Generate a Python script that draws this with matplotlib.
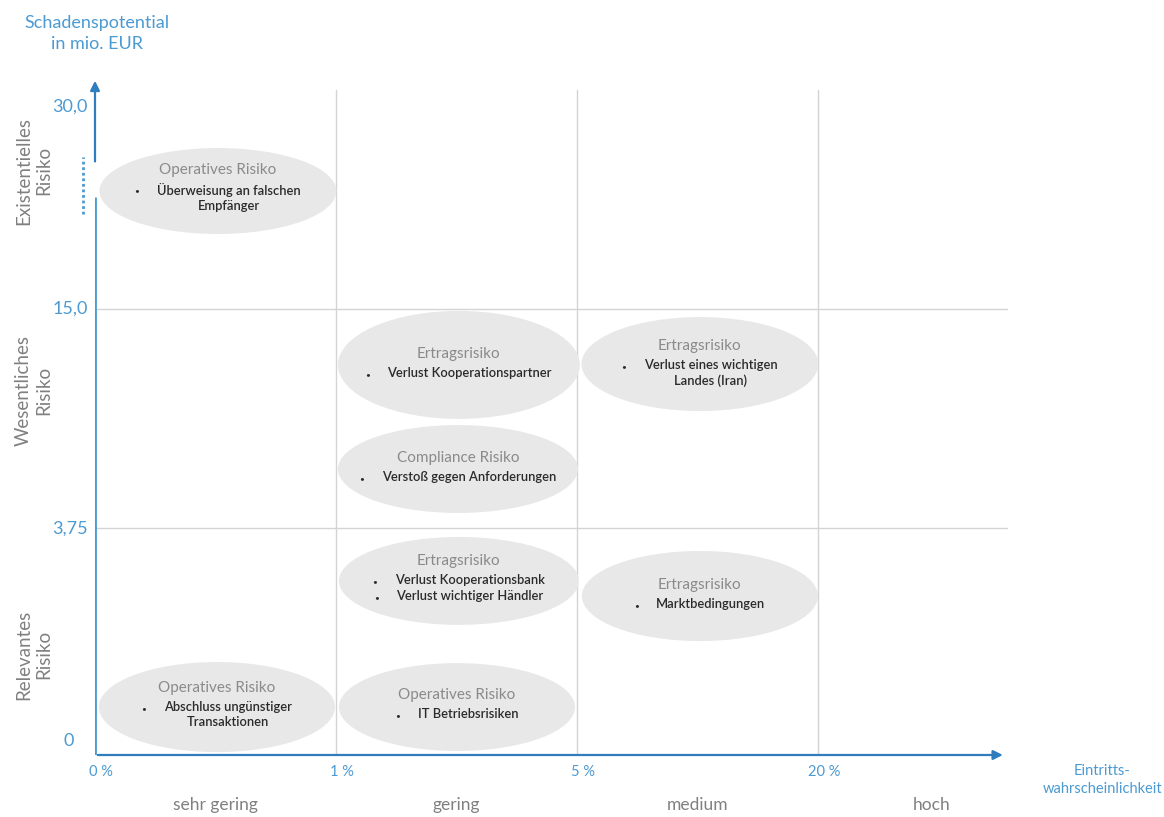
import matplotlib.pyplot as plt
from matplotlib.patches import Ellipse
from matplotlib.transforms import offset_copy

plt.rcParams['font.family'] = ['Lato', 'DejaVu Sans']

# axis categories
prob_ticks = ['0 %', '1 %', '5 %', '20 %']
prob_classes = ['sehr gering', 'gering', 'medium', 'hoch']
damage_ticks = ['0', '3,75', '15,0', '30,0']
damage_levels = [0, 1.05, 2.065, 3.0]
damage_classes = ['Relevantes\nRisiko', 'Wesentliches\nRisiko', 'Existentielles\nRisiko']

# risks: title, bullet items, ellipse centre / size (column and row units), title height
risk_titles = ['Operatives Risiko', 'Ertragsrisiko', 'Ertragsrisiko', 'Compliance Risiko',
               'Ertragsrisiko', 'Ertragsrisiko', 'Operatives Risiko', 'Operatives Risiko']
risk_items = [['Überweisung an falschen\nEmpfänger'],
              ['Verlust Kooperationspartner'],
              ['Verlust eines wichtigen\nLandes (Iran)'],
              ['Verstoß gegen Anforderungen'],
              ['Verlust Kooperationsbank', 'Verlust wichtiger Händler'],
              ['Marktbedingungen'],
              ['Abschluss ungünstiger\nTransaktionen'],
              ['IT Betriebsrisiken']]
risk_x = [0.51, 1.51, 2.51, 1.506, 1.51, 2.51, 0.506, 1.502]
risk_y = [2.611, 1.806, 1.81, 1.324, 0.806, 0.736, 0.222, 0.222]
risk_w = [0.983, 1.004, 0.983, 0.996, 0.996, 0.98, 0.98, 0.98]
risk_h = [0.398, 0.5, 0.435, 0.407, 0.407, 0.417, 0.417, 0.407]
title_y = [2.708, 1.856, 1.894, 1.375, 0.898, 0.787, 0.310, 0.278]

blue = '#2f7dbd'
light_blue = '#4b9ad2'
grid_col = '#d4d4d4'

fig = plt.figure(figsize=(11.64, 8.17), dpi=100)
# 1 column = 241 px, 1 row unit = 216 px
ax = fig.add_axes([95 / 1164, 62 / 817, 913 / 1164, 677 / 817])
ax.set_xlim(0, 913 / 241)
ax.set_ylim(0, 677 / 216)
ax.axis('off')
xmax = 913 / 241
ytop = 677 / 216

# grid
for i in range(1, 4):
    ax.plot([i, i], [0, 665 / 216], color=grid_col, lw=1, zorder=1)
for lev in damage_levels[1:3]:
    ax.plot([0, xmax], [lev, lev], color=grid_col, lw=1, zorder=1)

# axes with arrows
ax.annotate('', xy=(xmax - 0.01, 0), xytext=(0, 0),
            arrowprops=dict(arrowstyle='-|>', color=blue, lw=1.6, mutation_scale=14), zorder=5)
ax.plot([0, 0], [0, 2.585], color=light_blue, lw=2, zorder=5, solid_capstyle='butt')
ax.annotate('', xy=(0, ytop), xytext=(0, 2.735),
            arrowprops=dict(arrowstyle='-|>', color=blue, lw=1.6, mutation_scale=14), zorder=5)
ax.plot([-0.05, -0.05], [2.505, 2.77], color=light_blue, lw=2, ls=(0, (1, 1)), clip_on=False)

# ellipses and texts
for t, items, x, y, w, h, ty in zip(risk_titles, risk_items, risk_x, risk_y, risk_w, risk_h, title_y):
    ax.add_patch(Ellipse((x, y), w, h, facecolor='#e8e8e8', edgecolor='none', zorder=2))
    ax.text(x, ty, t, ha='center', va='center', fontsize=11, color='#8a8a8a', zorder=3)
    line_y = ty - 21 / 216
    for item in items:
        txt = ax.text(x + 0.045, line_y, item, ha='center', va='top', fontsize=9.3, color='#2a2a2a',
                      fontweight='semibold', multialignment='center', linespacing=1.3, zorder=3,
                      transform=offset_copy(ax.transData, fig=fig, y=8, units='dots'))
        txt.set_gid('item')
        txt._bullet_y = line_y
        line_y -= 16 / 216 * (item.count('\n') + 1)

fig.canvas.draw()
renderer = fig.canvas.get_renderer()
for txt in [t for t in ax.texts if t.get_gid() == 'item']:
    bb = txt.get_window_extent(renderer)
    bx, _ = ax.transData.inverted().transform((bb.x0 - 20, 0))
    ax.text(bx, txt._bullet_y, '•', ha='center', va='center', fontsize=6, color='#2a2a2a', zorder=3)

# tick labels
for i, lab in enumerate(prob_ticks):
    ax.text(i + 0.025, -17 / 216, lab, ha='center', va='center',
            fontsize=10.5, color=light_blue, clip_on=False)
for i, lab in enumerate(prob_classes):
    xs = i + 0.5 if i < 3 else 3.47
    ax.text(xs, -50 / 216, lab, ha='center', va='center', fontsize=12.5, color='#808080', clip_on=False)
ax.text(4.18, -25 / 216, 'Eintritts-\nwahrscheinlichkeit', ha='center', va='center', fontsize=10.5,
        color=light_blue, linespacing=1.35, clip_on=False)

for lev, lab in zip(damage_levels, damage_ticks):
    yy = lev + (14 / 216 if lab == '0' else 0)
    ax.text(-0.03 if lab != '0' else -0.11, yy, lab, ha='right' if lab != '0' else 'center',
            va='center', fontsize=13, color=light_blue, clip_on=False)

row_mid = [(damage_levels[0] + damage_levels[1]) / 2 - 0.06, (damage_levels[1] + damage_levels[2]) / 2 + 0.13,
           2.705]
for ym, lab in zip(row_mid, damage_classes):
    ax.text(-0.255, ym, lab, ha='center', va='center', rotation=90, fontsize=13.5,
            color='#808080', linespacing=1.2, clip_on=False)

ax.text(0.01, 3.34, 'Schadenspotential\nin mio. EUR', ha='center', va='center', fontsize=13,
        color=light_blue, linespacing=1.4, clip_on=False)

fig.savefig('out.png', dpi=100)
